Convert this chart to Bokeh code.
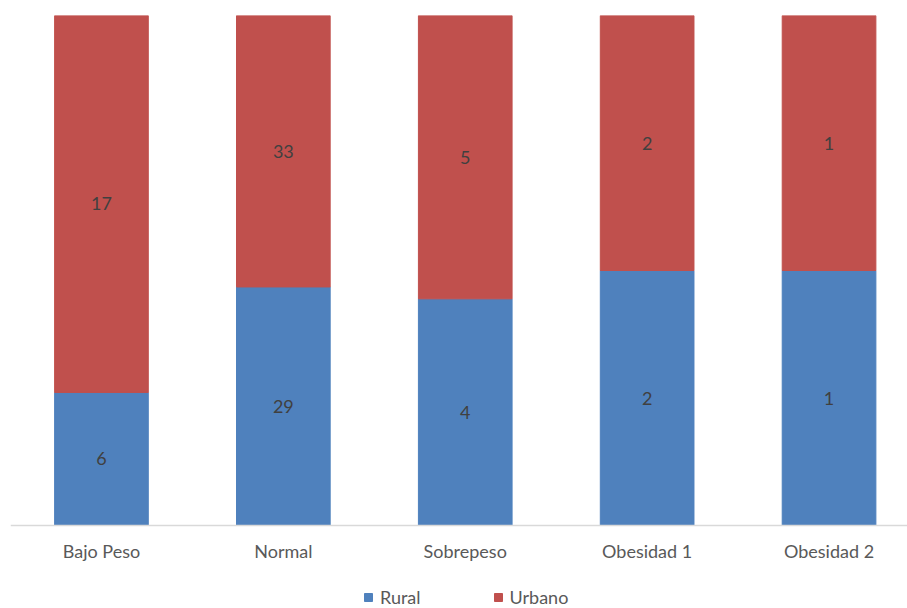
from bokeh.plotting import figure
from bokeh.models import ColumnDataSource, Range1d, FixedTicker, Legend, LegendItem, LabelSet
from bokeh.embed import file_html
from bokeh.resources import INLINE
from bokeh.core.properties import value

categories = ["Bajo Peso", "Normal", "Sobrepeso", "Obesidad 1", "Obesidad 2"]
rural = [6, 29, 4, 2, 1]
urbano = [17, 33, 5, 2, 1]

xs = list(range(len(categories)))
tot = [r + u for r, u in zip(rural, urbano)]
r_frac = [r / t for r, t in zip(rural, tot)]
u_top = [1.0] * len(tot)

src = ColumnDataSource(dict(
    x=xs,
    r0=[0.0] * len(xs), r1=r_frac,
    u0=r_frac, u1=u_top,
    rmid=[f / 2 for f in r_frac],
    umid=[(f + 1) / 2 for f in r_frac],
    rlab=[str(v) for v in rural],
    ulab=[str(v) for v in urbano],
))

W, H = 907, 608
left, top = 10, 15
plot_h = 510
below = H - top - plot_h
p = figure(frame_width=W - left, frame_height=H - top, output_backend="svg", toolbar_location=None,
           min_border_left=left, min_border_right=0, min_border_top=top, min_border_bottom=0)
p.x_range = Range1d(-0.5, -0.5 + (W - left + 0.5) / 182.0)
p.y_range = Range1d(-below / plot_h, 1)
p.outline_line_color = None
p.grid.visible = False
p.yaxis.visible = False

font = "Lato"
BLUE = "#4F81BD"
RED = "#C0504D"

rb = p.vbar(x="x", bottom="r0", top="r1", width=0.515, color=BLUE, source=src)
ub = p.vbar(x="x", bottom="u0", top="u1", width=0.515, color=RED, source=src)

for ycol, tcol in (("rmid", "rlab"), ("umid", "ulab")):
    p.add_layout(LabelSet(x="x", y=ycol, text=tcol, source=src, text_align="center",
                          text_baseline="middle", text_font=value(font),
                          text_font_size="18px", text_color="#404040"))

ax = p.xaxis[0]
ax.fixed_location = 0
ax.ticker = FixedTicker(ticks=xs)
ax.major_label_overrides = {i: c for i, c in enumerate(categories)}
ax.major_tick_line_color = None
ax.minor_tick_line_color = None
ax.major_tick_out = 0
ax.major_tick_in = 0
ax.axis_line_color = "#D9D9D9"
ax.axis_line_width = 1.5
ax.major_label_text_font = font
ax.major_label_text_font_size = "18px"
ax.major_label_text_color = "#595959"
ax.major_label_standoff = 14

legend = Legend(items=[LegendItem(label="Rural", renderers=[rb]),
                       LegendItem(label="Urbano", renderers=[ub])],
                orientation="horizontal", location=(353, 0),
                label_text_font=font, label_text_font_size="18px", label_text_color="#595959",
                glyph_width=10, glyph_height=10, spacing=72, border_line_color=None,
                background_fill_alpha=0, label_standoff=7, padding=0, margin=0)
p.add_layout(legend, "center")

open("out.html", "w").write(file_html(p, INLINE))
